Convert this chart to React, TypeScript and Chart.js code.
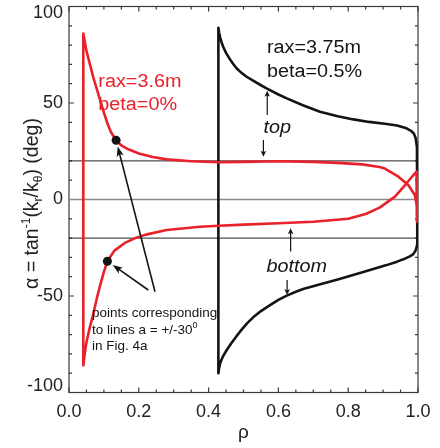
import React, { useEffect, useRef } from 'react';
import { Chart, registerables } from 'chart.js';
Chart.register(...registerables);

// ---- data ----
const RED_TOP_X = [0.041, 0.045, 0.05, 0.06, 0.07, 0.08, 0.09, 0.10, 0.11, 0.12, 0.135, 0.15, 0.17, 0.2, 0.24, 0.28, 0.35, 0.43, 0.5, 0.6, 0.7, 0.77, 0.84, 0.89, 0.905, 0.944, 0.972, 0.991, 0.997, 0.997];
const RED_TOP_Y = [86, 82, 77, 70, 63, 57, 51, 45, 39.5, 35, 30.7, 28, 26, 23.8, 22, 20.8, 19.8, 19.3, 19.5, 19.8, 19.5, 19, 18.2, 16.8, 16, 11.8, 7.5, 2.3, -3.7, -11.5];
const RED_BOT_X = [0.041, 0.045, 0.05, 0.06, 0.07, 0.08, 0.09, 0.10, 0.11, 0.13, 0.16, 0.19, 0.22, 0.28, 0.375, 0.43, 0.5, 0.6, 0.7, 0.8, 0.85, 0.89, 0.934, 0.963, 0.987, 0.996];
const RED_BOT_Y = [-86, -80, -74, -66, -59, -51, -44, -37.5, -32, -26.5, -22.5, -20, -18.2, -15.8, -14.1, -13.6, -13, -12.3, -11.5, -10, -7.5, -4.2, 1.5, 7.5, 12.7, 14.4];
const BLK_TOP_X = [0.428, 0.43, 0.433, 0.437, 0.442, 0.45, 0.46, 0.47, 0.48, 0.495, 0.509, 0.53, 0.55, 0.566, 0.6, 0.624, 0.67, 0.719, 0.77, 0.815, 0.86, 0.91, 0.94, 0.967, 0.98, 0.988, 0.993, 0.997];
const BLK_TOP_Y = [89, 86.5, 84, 81.5, 79, 76, 73, 70.3, 68, 65.5, 63.6, 61.3, 59.2, 57.6, 54.4, 52.4, 48.8, 45.5, 43.1, 41.5, 40.2, 39.1, 38.3, 36.9, 35.6, 34.2, 32, 27];
const BLK_BOT_X = [0.428, 0.43, 0.433, 0.437, 0.442, 0.452, 0.465, 0.48, 0.49, 0.51, 0.527, 0.55, 0.576, 0.6, 0.624, 0.65, 0.671, 0.72, 0.77, 0.814, 0.86, 0.91, 0.94, 0.958, 0.975, 0.986, 0.993, 0.997, 0.998];
const BLK_BOT_Y = [-90, -87.5, -85, -83, -81, -78, -74.5, -70.8, -68.5, -64.2, -61.2, -57.8, -54.7, -52, -49.8, -47.8, -46.4, -43.9, -41.4, -39.1, -36.7, -34, -32.2, -31, -29.6, -28.4, -26.5, -24, -22.5];
const MARK_X = [0.135, 0.11];
const MARK_Y = [30.7, -32];
const REF_LEVELS = [20, 0, -20];
const X_TICKS = [0, 0.2, 0.4, 0.6, 0.8, 1.0];
const X_TICK_LABELS = ['0.0', '0.2', '0.4', '0.6', '0.8', '1.0'];
const Y_TICKS = [-100, -50, 0, 50, 100];
const Y_TICK_LABELS = ['-100', '-50', '0', '50', '100'];

const FONT = '"Liberation Sans", Arial, Helvetica, sans-serif';
const RED = '#e8212b';
const BLACK = '#141414';

function loop(tx: number[], ty: number[], bx: number[], by: number[]) {
  const pts: { x: number; y: number }[] = [];
  for (let i = tx.length - 1; i >= 0; i--) pts.push({ x: tx[i], y: ty[i] });
  for (let i = 0; i < bx.length; i++) pts.push({ x: bx[i], y: by[i] });
  pts.push(pts[0]);
  return pts;
}

function txt(ctx: CanvasRenderingContext2D, s: string, x: number, y: number, size: number, color: string, opts: { italic?: boolean; sx?: number; align?: CanvasTextAlign } = {}) {
  ctx.save();
  ctx.translate(x, y);
  ctx.scale(opts.sx ?? 1.1, 1);
  ctx.font = `${opts.italic ? 'italic ' : ''}${size}px ${FONT}`;
  ctx.fillStyle = color;
  ctx.textAlign = opts.align ?? 'left';
  ctx.textBaseline = 'alphabetic';
  ctx.fillText(s, 0, 0);
  ctx.restore();
}

type Seg = { t: string; s: number; dy: number };
function richWidth(ctx: CanvasRenderingContext2D, segs: Seg[]) {
  let w = 0;
  for (const g of segs) { ctx.font = `${g.s}px ${FONT}`; w += ctx.measureText(g.t).width; }
  return w;
}
function richDraw(ctx: CanvasRenderingContext2D, segs: Seg[], x0: number, color: string) {
  let x = x0;
  ctx.fillStyle = color;
  ctx.textBaseline = 'alphabetic';
  ctx.textAlign = 'left';
  for (const g of segs) { ctx.font = `${g.s}px ${FONT}`; ctx.fillText(g.t, x, g.dy); x += ctx.measureText(g.t).width; }
}

function arrow(ctx: CanvasRenderingContext2D, x1: number, y1: number, x2: number, y2: number, lw: number, hl: number, hw: number) {
  const dx = x2 - x1, dy = y2 - y1;
  const L = Math.hypot(dx, dy);
  const ux = dx / L, uy = dy / L;
  ctx.save();
  ctx.strokeStyle = BLACK; ctx.fillStyle = BLACK; ctx.lineWidth = lw;
  ctx.beginPath(); ctx.moveTo(x1, y1); ctx.lineTo(x2 - ux * hl * 0.6, y2 - uy * hl * 0.6); ctx.stroke();
  ctx.beginPath();
  ctx.moveTo(x2, y2);
  ctx.lineTo(x2 - ux * hl - uy * hw, y2 - uy * hl + ux * hw);
  ctx.lineTo(x2 - ux * hl * 0.75, y2 - uy * hl * 0.75);
  ctx.lineTo(x2 - ux * hl + uy * hw, y2 - uy * hl - ux * hw);
  ctx.closePath(); ctx.fill();
  ctx.restore();
}

const framePlugin = {
  id: 'frame',
  beforeDatasetsDraw(chart: any) {
    const { ctx, chartArea: a, scales: { x, y } } = chart;
    ctx.save();
    ctx.strokeStyle = '#3a3a3a';
    ctx.lineWidth = 1.2;
    ctx.strokeRect(a.left, a.top, a.right - a.left, a.bottom - a.top);
    ctx.beginPath();
    for (let i = 0; i <= 20; i++) {
      const px = x.getPixelForValue(i * 0.05);
      const L = i % 4 === 0 ? 5 : 3;
      ctx.moveTo(px, a.bottom); ctx.lineTo(px, a.bottom - L);
      ctx.moveTo(px, a.top); ctx.lineTo(px, a.top + L);
    }
    for (let i = 0; i <= 20; i++) {
      const py = y.getPixelForValue(-100 + i * 10);
      const L = i % 5 === 0 ? 5 : 3;
      ctx.moveTo(a.left, py); ctx.lineTo(a.left + L, py);
      ctx.moveTo(a.right, py); ctx.lineTo(a.right - L, py);
    }
    ctx.stroke();
    ctx.restore();
  },
  afterDatasetsDraw(chart: any) {
    const { ctx, scales: { x, y } } = chart;
    const X = (v: number) => x.getPixelForValue(v);
    const Y = (v: number) => y.getPixelForValue(v);
    txt(ctx, 'rax=3.6m', X(0.084), Y(58.3), 18, RED);
    txt(ctx, 'beta=0%', X(0.084), Y(46.4), 18, RED);
    txt(ctx, 'rax=3.75m', X(0.567), Y(75.9), 18, BLACK);
    txt(ctx, 'beta=0.5%', X(0.567), Y(63.6), 18, BLACK);
    txt(ctx, 'top', X(0.557), Y(34.3), 18, BLACK, { italic: true });
    txt(ctx, 'bottom', X(0.566), Y(-37.4), 18, BLACK, { italic: true });
    arrow(ctx, X(0.568), Y(43.8), X(0.568), Y(56.4), 1.2, 6, 2.8);
    arrow(ctx, X(0.557), Y(30.8), X(0.557), Y(22.2), 1.2, 6, 2.8);
    arrow(ctx, X(0.635), Y(-27), X(0.635), Y(-14.9), 1.2, 6, 2.8);
    arrow(ctx, X(0.625), Y(-41.7), X(0.625), Y(-49.5), 1.2, 6, 2.8);
    // notes
    txt(ctx, 'points corresponding', X(0.066), Y(-61), 13.5, BLACK, { sx: 1 });
    ctx.save();
    ctx.translate(X(0.066), Y(-69.5));
    richDraw(ctx, [{ t: 'to lines a = +/-30', s: 13.5, dy: 0 }, { t: '0', s: 9, dy: -6 }], 0, BLACK);
    ctx.restore();
    txt(ctx, 'in Fig. 4a', X(0.066), Y(-78), 13.5, BLACK, { sx: 1 });
    // long arrows to marked points
    const starts = [[0.2464, -47.8], [0.2272, -46.9]];
    for (let i = 0; i < MARK_X.length; i++) {
      const sx = X(starts[i][0]), sy = Y(starts[i][1]);
      const tx = X(MARK_X[i]), ty = Y(MARK_Y[i]);
      const L = Math.hypot(tx - sx, ty - sy);
      const ex = tx - (tx - sx) / L * 6.5, ey = ty - (ty - sy) / L * 6.5;
      arrow(ctx, sx, sy, ex, ey, 1.6, 10, 3.6);
    }
  },
  afterDraw(chart: any) {
    const { ctx, chartArea: a, scales: { y } } = chart;
    ctx.save();
    ctx.font = `18px ${FONT}`;
    ctx.fillStyle = '#222';
    ctx.textAlign = 'right';
    ctx.textBaseline = 'middle';
    Y_TICKS.forEach((v, i) => {
      let py = y.getPixelForValue(v);
      py = Math.min(Math.max(py, a.top + 6.5), a.bottom - 6);
      ctx.fillText(Y_TICK_LABELS[i], a.left - 6, py);
    });
    ctx.restore();
    // y title
    const segs: Seg[] = [
      { t: 'α = tan', s: 19.5, dy: 0 },
      { t: '-1', s: 12, dy: -8 },
      { t: '(k', s: 19.5, dy: 0 },
      { t: 'r', s: 12, dy: 4 },
      { t: '/k', s: 19.5, dy: 0 },
      { t: 'θ', s: 12, dy: 4 },
      { t: ') (deg)', s: 19.5, dy: 0 },
    ];
    ctx.save();
    const w = richWidth(ctx, segs);
    ctx.translate(a.left - 31.5, (a.top + a.bottom) / 2 + 4);
    ctx.rotate(-Math.PI / 2);
    richDraw(ctx, segs, -w / 2, '#222');
    ctx.restore();
  },
};

export default function App() {
  const ref = useRef<HTMLCanvasElement>(null);
  useEffect(() => {
    const canvas = ref.current!;
    const refSets = REF_LEVELS.map((lv) => ({
      data: [{ x: 0, y: lv }, { x: 1, y: lv }],
      showLine: true,
      borderColor: lv === 0 ? '#8a8a8a' : '#222',
      borderWidth: lv === 0 ? 1.6 : 1,
      pointRadius: 0,
    }));
    const chart = new Chart(canvas, {
      type: 'scatter',
      data: {
        datasets: [
          {
            data: MARK_X.map((v, i) => ({ x: v, y: MARK_Y[i] })),
            showLine: false,
            pointRadius: 4.5,
            backgroundColor: BLACK,
            borderWidth: 0,
          },
          {
            data: loop(RED_TOP_X, RED_TOP_Y, RED_BOT_X, RED_BOT_Y),
            showLine: true,
            borderColor: RED,
            borderWidth: 2.6,
            pointRadius: 0,
            tension: 0,
          },
          {
            data: loop(BLK_TOP_X, BLK_TOP_Y, BLK_BOT_X, BLK_BOT_Y),
            showLine: true,
            borderColor: BLACK,
            borderWidth: 2.6,
            pointRadius: 0,
            tension: 0,
          },
          ...refSets,
        ] as any,
      },
      options: {
        animation: false,
        responsive: false,
        devicePixelRatio: 1,
        layout: { padding: { left: 0, right: 22, top: 6.5, bottom: 0 } },
        plugins: { legend: { display: false }, tooltip: { enabled: false } },
        elements: { line: { borderJoinStyle: 'round', borderCapStyle: 'round' } },
        scales: {
          x: {
            type: 'linear',
            min: 0,
            max: 1,
            afterBuildTicks: (s: any) => { s.ticks = X_TICKS.map((v) => ({ value: v })); },
            afterFit: (s: any) => { s.height = 55.5; },
            grid: { display: false, drawTicks: false },
            border: { display: false },
            ticks: {
              padding: 9,
              color: '#222',
              font: { family: FONT, size: 18 },
              maxRotation: 0,
              callback: (v: any) => { const i = X_TICKS.indexOf(Number(v)); return i >= 0 ? X_TICK_LABELS[i] : ''; },
            },
            title: { display: true, text: 'ρ', color: '#222', font: { family: FONT, size: 19 }, padding: { top: 0, bottom: 4 } },
          },
          y: {
            type: 'linear',
            min: -100,
            max: 100,
            afterBuildTicks: (s: any) => { s.ticks = Y_TICKS.map((v) => ({ value: v })); },
            afterFit: (s: any) => { s.width = 69; },
            grid: { display: false, drawTicks: false },
            border: { display: false },
            ticks: { display: false },
          },
        },
      } as any,
      plugins: [framePlugin],
    });
    return () => chart.destroy();
  }, []);
  return (
    <div style={{ position: 'absolute', left: 0, top: 0, width: 440, height: 448, background: '#fff' }}>
      <canvas ref={ref} width={440} height={448} style={{ display: 'block', width: 440, height: 448 }} />
    </div>
  );
}
